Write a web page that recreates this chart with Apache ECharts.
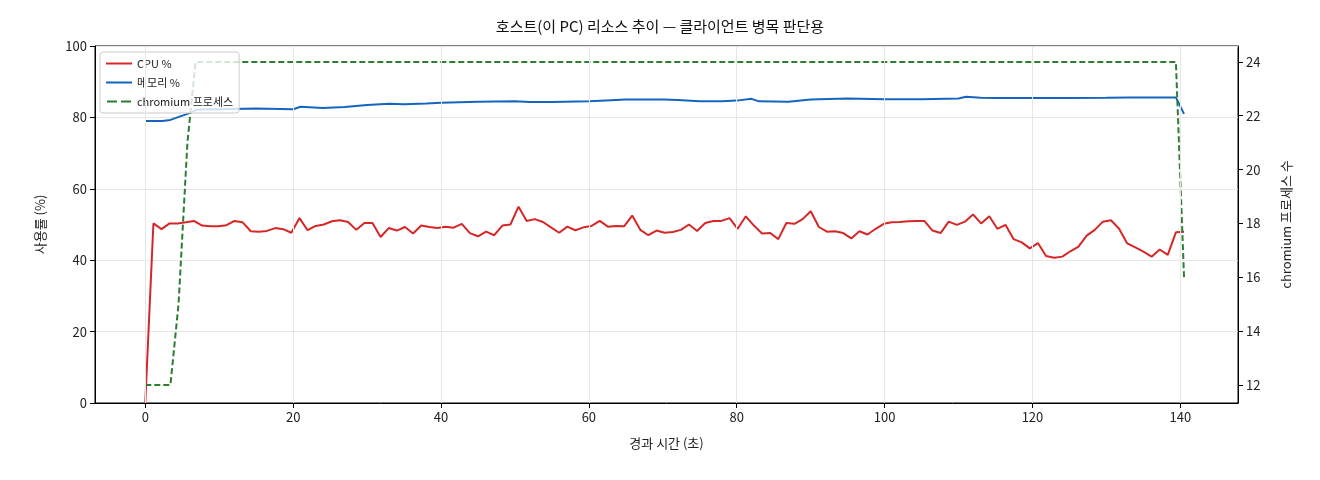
<!DOCTYPE html>
<html><head><meta charset="utf-8">
<script src="https://cdn.jsdelivr.net/npm/echarts@6/dist/echarts.min.js"></script>
<style>html,body{margin:0;padding:0;background:#fff}#c{width:1320px;height:480px}</style>
</head><body><div id="c"></div>
<script>
const cpu = [0,50.3,48.7,50.3,50.3,50.6,51,49.7,49.5,49.5,49.8,51,50.6,48.1,48,48.2,49,48.7,47.7,51.8,48.4,49.6,50,50.9,51.2,50.7,48.5,50.4,50.4,46.5,49,48.3,49.3,47.5,49.7,49.3,49,49.4,49.1,50.2,47.6,46.7,48,47,49.7,50,55,51,51.5,50.7,49.2,47.7,49.4,48.4,49.2,49.6,51,49.4,49.6,49.5,52.5,48.5,47,48.3,47.7,47.9,48.5,50,48.2,50.4,51,51,51.8,48.8,52.3,49.7,47.5,47.6,45.9,50.4,50.2,51.5,53.7,49.3,48,48.1,47.6,46.1,48.1,47.2,48.8,50.2,50.6,50.7,50.9,51,51,48.3,47.6,50.8,49.9,50.8,52.8,50.3,52.3,48.8,49.9,45.9,45,43.3,44.8,41.2,40.7,41,42.5,43.8,46.9,48.5,50.8,51.2,48.8,44.7,43.6,42.4,41,43,41.5,47.8,48];
const endTime = 140.5;
const times = cpu.map((_, i) => +(i * endTime / (cpu.length - 1)).toFixed(2));
const memT = [0,2.3,3.4,5.7,7,10,15,20,21,24,27,30,33,35,38,40,45,50,52,55,60,63,65,70,72,75,78,80,82,83,87,90,95,100,105,110,111,113,115,120,125,130,133,139.4,140.5];
const memV = [79,79,79.3,81,82.2,82.3,82.5,82.3,83,82.6,82.9,83.5,83.8,83.7,83.9,84.1,84.4,84.5,84.3,84.3,84.5,84.8,85,85,84.9,84.5,84.5,84.7,85.2,84.5,84.4,85,85.3,85.1,85.1,85.3,85.8,85.5,85.4,85.4,85.4,85.5,85.6,85.6,81];
const chrT = [0,1.1,2.3,3.4,4.5,5.7,6.8,139.4,140.5];
const chrV = [12,12,12,12,15,21,24,24,16];
const xTicks = [0,20,40,60,80,100,120,140];
const rTicks = [12,14,16,18,20,22,24];
const F = '"Noto Sans CJK KR","DejaVu Sans",sans-serif';
const chart = echarts.init(document.getElementById('c'));
const grid = {show:true,lineStyle:{color:'#e6e6e6'}};
chart.setOption({
  animation:false,
  textStyle:{fontFamily:F,color:'#222'},
  title:{text:'호스트(이 PC) 리소스 추이 — 클라이언트 병목 판단용',left:'center',top:14,textStyle:{fontFamily:F,fontSize:15,fontWeight:'normal',color:'#111'}},
  legend:{left:100,top:52,orient:'vertical',itemWidth:26,itemHeight:2,itemGap:8,backgroundColor:'rgba(255,255,255,0.8)',borderColor:'#ccc',borderWidth:1,borderRadius:3,padding:[6,6,6,6],textStyle:{fontSize:11,fontFamily:F,color:'#222'},
    data:[{name:'CPU %',icon:'rect'},{name:'메모리 %',icon:'rect'},{name:'chromium 프로세스',icon:'path://M0,0H10V2H0Z M14,0H24V2H14Z'}]},
  grid:{left:95,right:82,top:46,bottom:77,show:true,borderColor:'#000',borderWidth:1,backgroundColor:'transparent'},
  xAxis:{type:'value',min:-6.8,max:147.8,name:'경과 시간 (초)',nameLocation:'middle',nameGap:34,nameTextStyle:{fontSize:13,fontFamily:F},
    axisLine:{show:true,onZero:false,lineStyle:{color:'#000'}},axisTick:{show:true,customValues:xTicks,lineStyle:{color:'#000'}},
    splitLine:{show:false},
    axisLabel:{fontSize:13,color:'#222',customValues:xTicks}},
  yAxis:[
    {type:'value',min:0,max:100,interval:20,name:'사용률 (%)',nameLocation:'middle',nameGap:48,nameTextStyle:{fontSize:13,fontFamily:F},
     axisLine:{show:true,onZero:false,lineStyle:{color:'#000'}},axisTick:{show:true,lineStyle:{color:'#000'}},splitLine:grid,axisLabel:{fontSize:13,color:'#222'}},
    {type:'value',min:11.33,max:24.59,name:'chromium 프로세스 수',nameLocation:'middle',nameGap:42,nameRotate:90,nameTextStyle:{fontSize:13,fontFamily:F},
     axisLine:{show:true,onZero:false,lineStyle:{color:'#000'}},axisTick:{show:true,customValues:rTicks,lineStyle:{color:'#000'}},splitLine:{show:false},
     axisLabel:{fontSize:13,color:'#222',customValues:rTicks}}
  ],
  series:[
    {name:'vgrid',type:'line',data:[],markLine:{silent:true,symbol:'none',label:{show:false},lineStyle:{color:'#e6e6e6',type:'solid',width:1},data:xTicks.map(v=>({xAxis:v}))}},
    {name:'CPU %',type:'line',yAxisIndex:0,showSymbol:false,data:times.map((t,i)=>[t,cpu[i]]),lineStyle:{color:'#d62728',width:2},itemStyle:{color:'#d62728'}},
    {name:'메모리 %',type:'line',yAxisIndex:0,showSymbol:false,data:memT.map((t,i)=>[t,memV[i]]),lineStyle:{color:'#1565c0',width:2},itemStyle:{color:'#1565c0'}},
    {name:'chromium 프로세스',type:'line',yAxisIndex:1,showSymbol:false,data:chrT.map((t,i)=>[t,chrV[i]]),lineStyle:{color:'#2e7d32',width:2,type:[6,3]},itemStyle:{color:'#2e7d32'}}
  ]
});
</script></body></html>
